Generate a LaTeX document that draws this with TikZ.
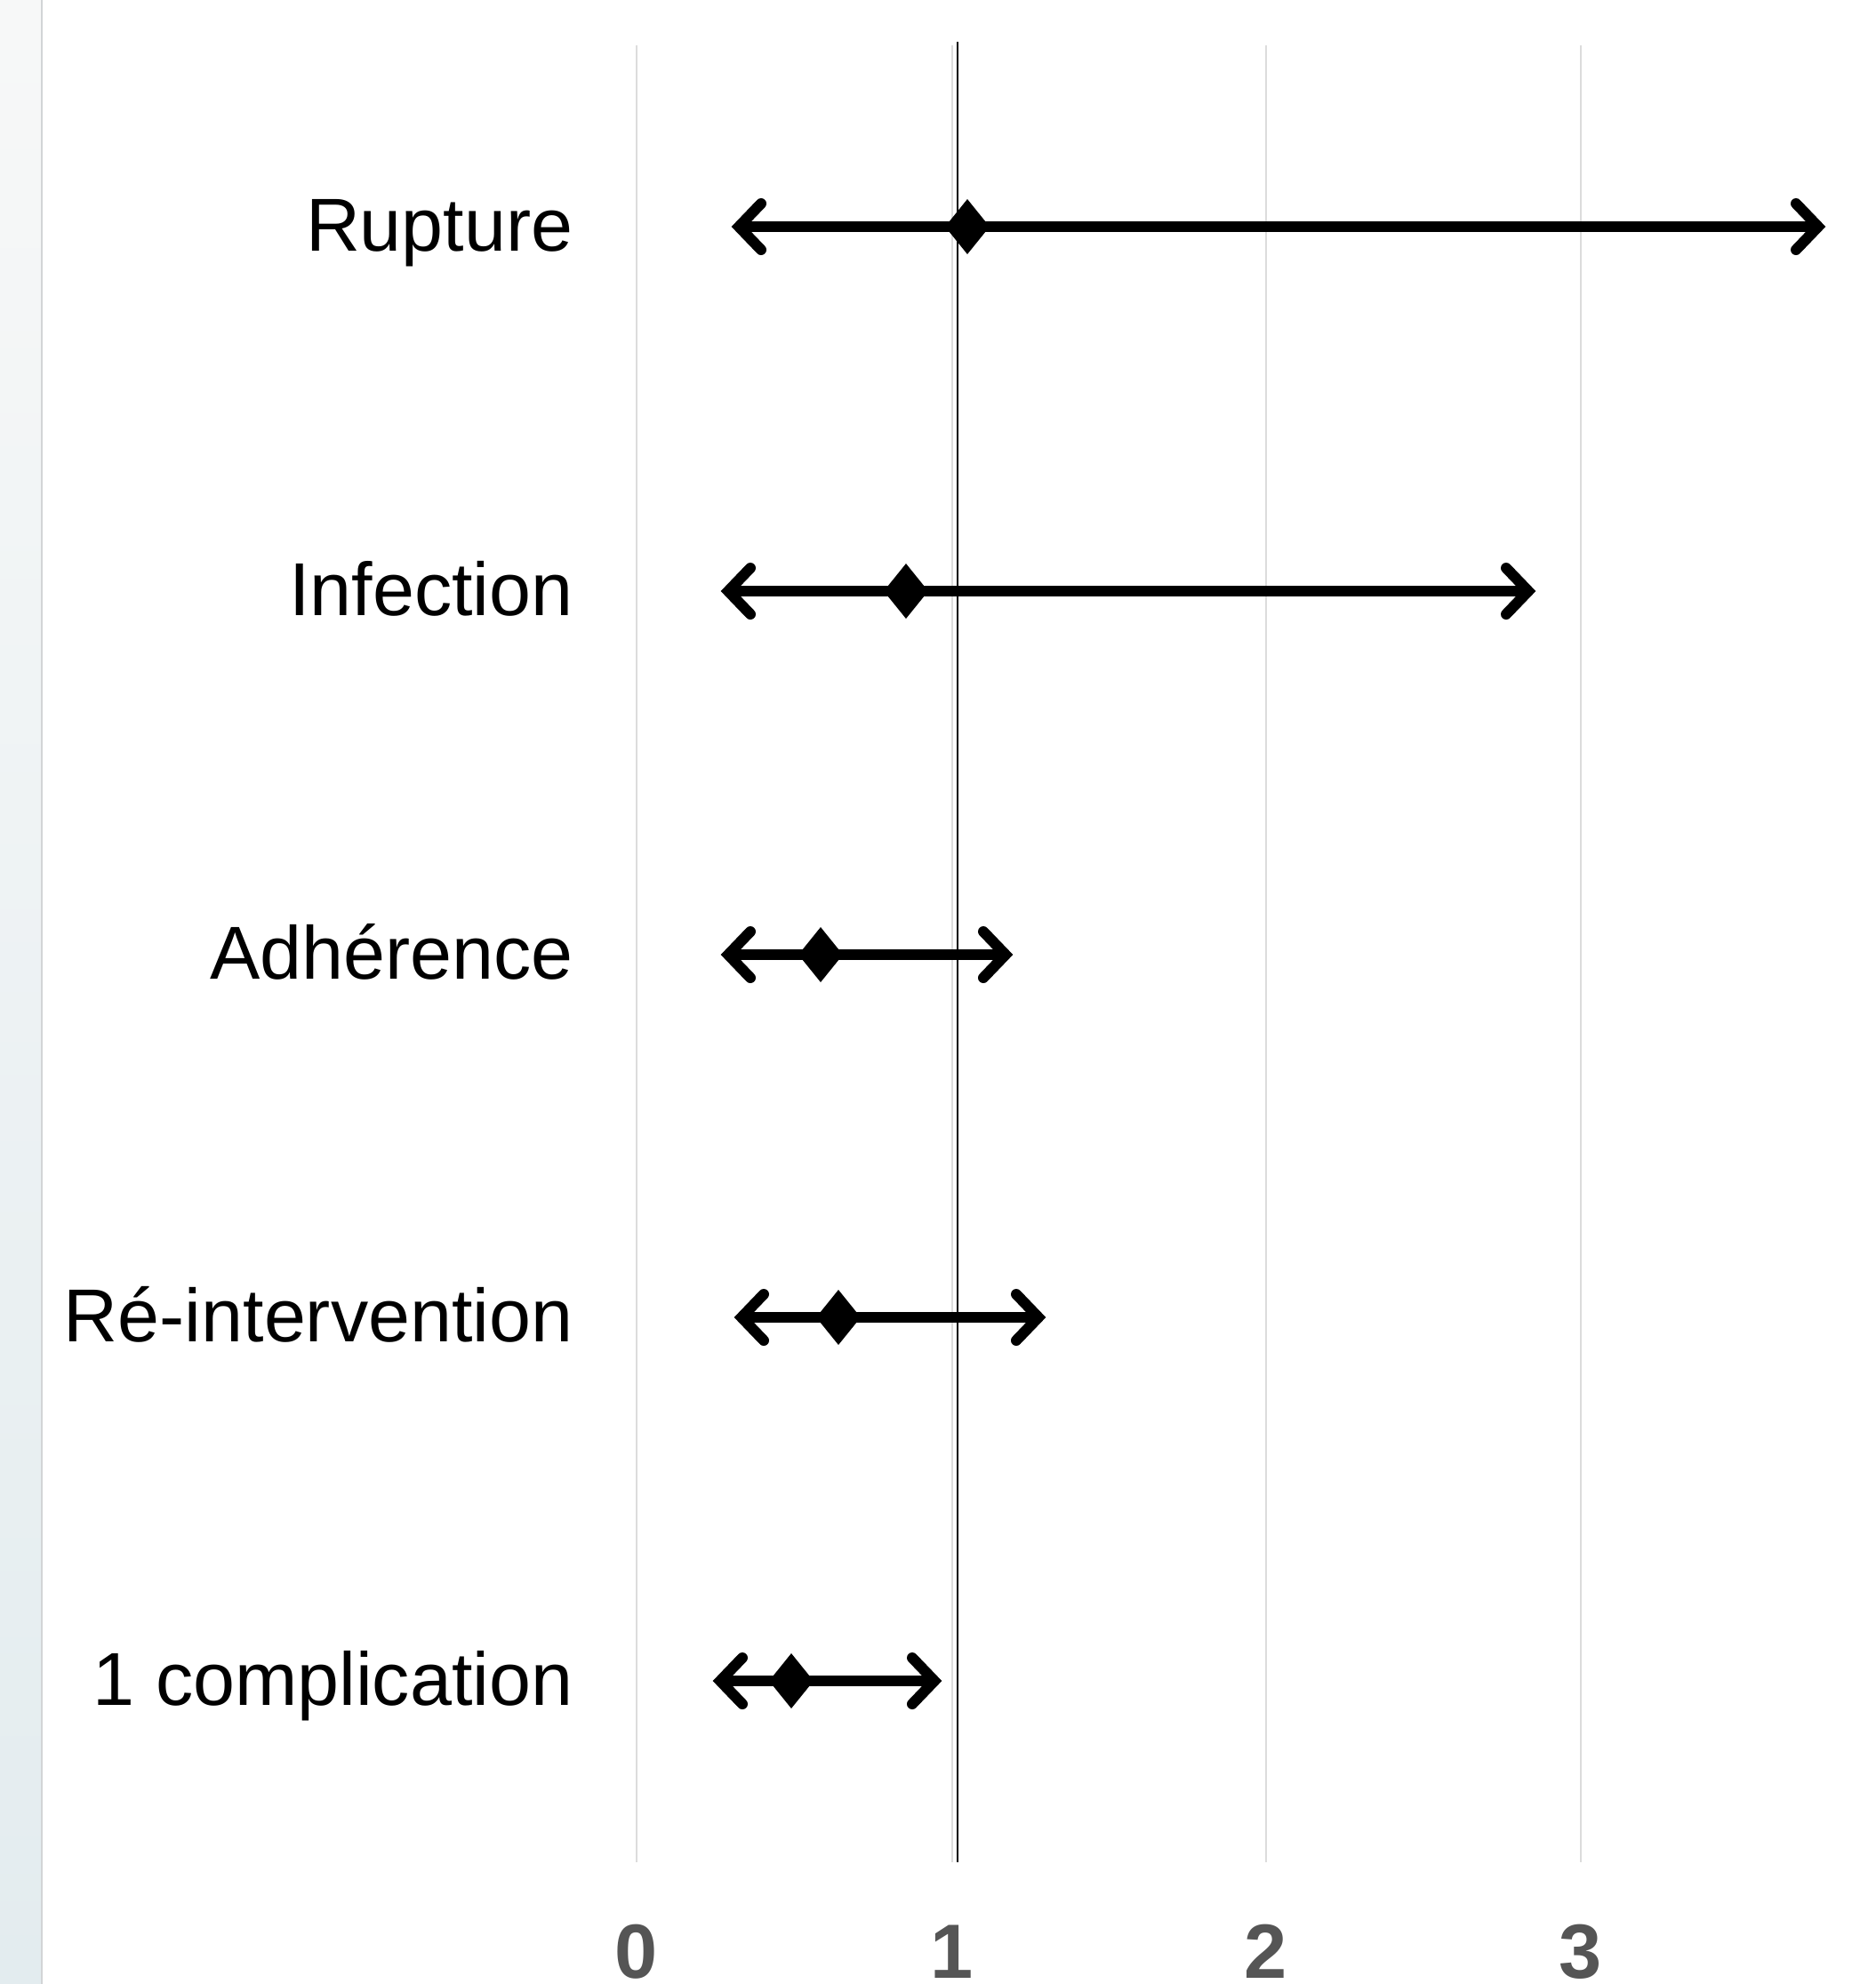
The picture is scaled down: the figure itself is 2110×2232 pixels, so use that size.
\documentclass[tikz,border=0pt]{standalone}
\usepackage{fontspec}
\setmainfont{Liberation Sans}
\definecolor{stripTop}{HTML}{F7F8F8}
\definecolor{stripBot}{HTML}{E3ECEF}
\definecolor{stripEdge}{HTML}{D2D4D6}
\definecolor{gridc}{HTML}{DCDCDC}
\definecolor{tickc}{HTML}{555555}
\tikzset{
  gridline/.style={draw=gridc, line width=0.02cm},
  refline/.style={draw=black, line width=0.02cm},
  ebar/.style={draw=black, line width=0.12cm, line cap=round, line join=miter},
  rowlabel/.style={anchor=base east, inner sep=0pt, font=\fontsize{24.0}{29}\selectfont, text=black},
  ticklabel/.style={anchor=base, inner sep=0pt, font=\fontsize{24.6}{29}\selectfont\bfseries, text=tickc},
  chevL/.pic={\draw[ebar] (25,-26) -- (0,0) -- (25,26);},
  chevR/.pic={\draw[ebar] (-25,-26) -- (0,0) -- (-25,26);},
  diam/.pic={\fill[black] (0,-31) -- (25,0) -- (0,31) -- (-25,0) -- cycle;}
}
\begin{document}
\begin{tikzpicture}[x=0.01cm, y=-0.01cm]
  \useasboundingbox (0,0) rectangle (2110,2232);
  \fill[white] (0,0) rectangle (2110,2232);
  % left strip
  \shade[top color=stripTop, bottom color=stripBot] (0,0) rectangle (46,2232);
  \draw[stripEdge, line width=0.02cm] (47,0) -- (47,2232);
  % grid lines
  \foreach \v/\x in {0/716, 1/1071, 2/1424, 3/1778} {
    \coordinate (gt\v) at (\x,51);
    \coordinate (gb\v) at (\x,2095);
    \draw[gridline] (gt\v) -- (gb\v);
    \node[ticklabel] (tick\v) at (\x,2225) {\v};
  }
  % reference line
  \coordinate (reftop) at (1077,47);
  \coordinate (refbot) at (1077,2095);
  \draw[refline] (reftop) -- (refbot);
  % rows
  \foreach \n/\y/\l/\m/\r/\t in {
      a/255/823/1088/2053/Rupture,
      b/665/811/1019/1727/Infection,
      c/1074/811/923/1139/Adhérence,
      d/1482/826/943/1176/Ré-intervention,
      e/1891/802/890/1059/1 complication} {
    \node[rowlabel] (lab\n) at (645,\y+27) {\t};
    \coordinate (lo\n) at (\l+8,\y);
    \coordinate (hi\n) at (\r-8,\y);
    \draw[ebar, line cap=butt] (lo\n) -- (hi\n);
    \pic at (lo\n) {chevL};
    \pic at (hi\n) {chevR};
    \coordinate (mid\n) at (\m,\y);
    \pic at (mid\n) {diam};
  }
\end{tikzpicture}
\end{document}
